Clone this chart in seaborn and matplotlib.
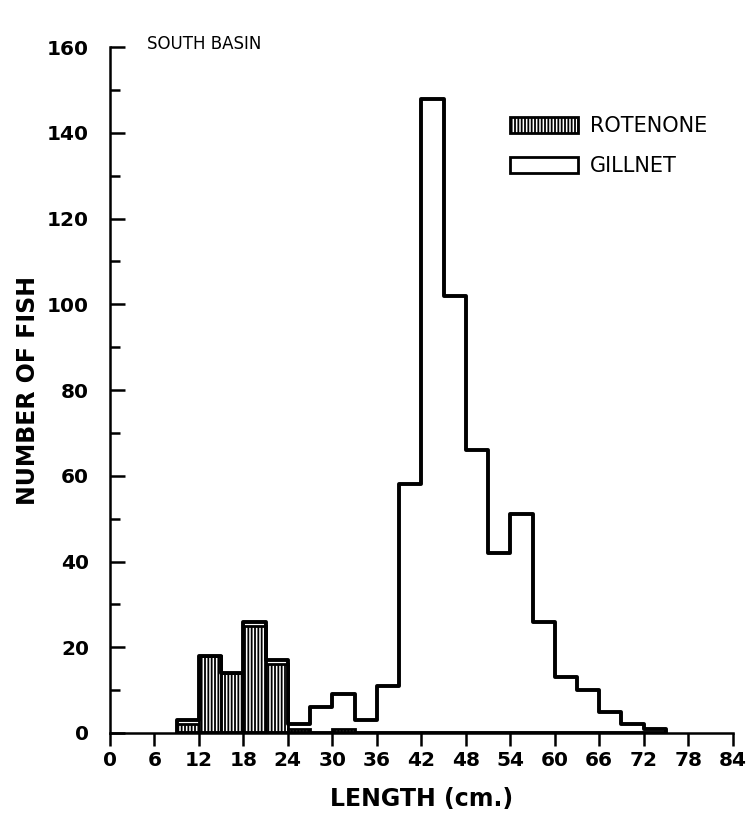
import numpy as np
import pandas as pd
import matplotlib
matplotlib.use("Agg")
import matplotlib.pyplot as plt
import seaborn as sns
from matplotlib.patches import Patch

# Length classes (left edge of 3-cm bins, cm)
bin_left = [9, 12, 15, 18, 21, 24, 27, 30, 33, 36, 39, 42, 45, 48, 51, 54, 57, 60, 63, 66, 69, 72]
# Rotenone catch per bin
rotenone = [2, 18, 14, 25, 16, 1, 0, 1, 0, 0, 0, 0, 0, 0, 0, 0, 0, 0, 0, 0, 0, 0]
# Gillnet catch per bin (stacked above rotenone)
gillnet = [1, 0, 0, 1, 1, 1, 6, 8, 3, 11, 58, 148, 102, 66, 42, 51, 26, 13, 10, 5, 2, 1]

x_ticks = [0, 6, 12, 18, 24, 30, 36, 42, 48, 54, 60, 66, 72, 78, 84]
y_ticks = [0, 20, 40, 60, 80, 100, 120, 140, 160]

BIN_W = 3
edges = [float(e) for e in np.arange(bin_left[0], bin_left[-1] + 2 * BIN_W, BIN_W)]

df = pd.DataFrame({
    "mid": np.array(bin_left) + BIN_W / 2,
    "rotenone": rotenone,
    "gillnet": gillnet,
})
df["total"] = df["rotenone"] + df["gillnet"]

sns.set_style("ticks")
plt.rcParams["font.family"] = ["DejaVu Sans"]
plt.rcParams["hatch.linewidth"] = 1.3
plt.rcParams["text.color"] = "black"
plt.rcParams["axes.labelcolor"] = "black"
plt.rcParams["xtick.color"] = "black"
plt.rcParams["ytick.color"] = "black"
plt.rcParams["axes.edgecolor"] = "black"

fig = plt.figure(figsize=(7.53, 8.27), dpi=100)
ax = fig.add_axes([0.146, 0.1137, 0.827, 0.8293])

# Rotenone hatched bars
rot = df[df["rotenone"] > 0]
sns.histplot(data=rot, x="mid", weights="rotenone", bins=edges, element="bars",
             fill=True, color="white", edgecolor="black", linewidth=2.0,
             ax=ax, zorder=2)
for p in ax.patches:
    p.set_hatch("|||||")
    p.set_facecolor("white")
    p.set_edgecolor("black")

# Total outline (gillnet + rotenone)
sns.histplot(data=df, x="mid", weights="total", bins=edges, element="step",
             fill=True, color="black", ax=ax, zorder=3)
for c in ax.collections:
    c.set_facecolor("none")
    c.set_edgecolor("black")
    c.set_linewidth(2.8)

ax.set_xlim(0, 84)
ax.set_ylim(0, 160)
ax.set_xticks(x_ticks)
ax.set_xticklabels([str(t) for t in x_ticks])
ax.set_yticks(y_ticks)
ax.set_yticks(np.arange(10, 160, 20), minor=True)

sns.despine(ax=ax)
for s in ("left", "bottom"):
    ax.spines[s].set_linewidth(1.8)
ax.tick_params(axis="x", direction="out", length=9, width=1.8, labelsize=14.5, pad=4)
ax.tick_params(axis="y", which="major", direction="in", length=11, width=1.8, labelsize=14.5, pad=15)
ax.tick_params(axis="y", which="minor", direction="in", length=7, width=1.8)
for lab in ax.get_xticklabels() + ax.get_yticklabels():
    lab.set_fontweight("bold")

ax.set_xlabel("LENGTH (cm.)", fontsize=17, fontweight="bold", labelpad=12)
ax.set_ylabel("NUMBER OF FISH", fontsize=17, fontweight="bold", labelpad=5)

ax.text(5, 160.8, "SOUTH BASIN", fontsize=12, ha="left", va="center")

handles = [
    Patch(facecolor="white", edgecolor="black", hatch="|||||", linewidth=2.0, label="ROTENONE"),
    Patch(facecolor="white", edgecolor="black", linewidth=2.0, label="GILLNET"),
]
ax.legend(handles=handles, loc="upper left", bbox_to_anchor=(0.642, 0.899),
          frameon=False, fontsize=15, handlelength=3.27, handleheight=0.82,
          labelspacing=0.95, handletextpad=0.58, borderpad=0, borderaxespad=0)

fig.savefig("out.png", dpi=100)
